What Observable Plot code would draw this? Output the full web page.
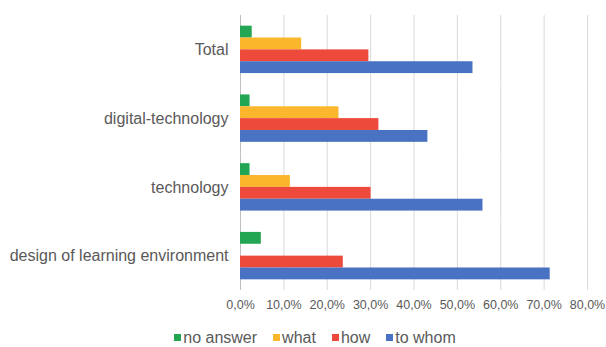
<!DOCTYPE html>
<html>
<head>
<meta charset="utf-8">
<script src="https://cdn.jsdelivr.net/npm/d3@7"></script>
<script src="https://cdn.jsdelivr.net/npm/@observablehq/plot@0.6"></script>
<style>
  html, body { margin: 0; padding: 0; background: #fff; }
  body { width: 606px; height: 347px; overflow: hidden; font-family: "Liberation Sans", Arial, sans-serif; }
  #chart svg { display: block; }
  #legend { display: flex; justify-content: center; gap: 16px; margin-top: 11px; padding-left: 24px; font-size: 16px; line-height: 17px; color: #595959; }
  #legend span.item { display: flex; align-items: center; }
  #legend span.sw { width: 7px; height: 7px; margin-right: 2px; display: inline-block; }
</style>
</head>
<body>
<div id="chart"></div>
<script>
// Survey categories, top to bottom
const categories = ["Total", "digital-technology", "technology", "design of learning environment"];
// Answer types, drawn top to bottom inside each group
const seriesNames = ["no answer", "what", "how", "to whom"];
const seriesColors = ["#22a653", "#fbb62c", "#ee4a3b", "#4a72c2"];
// Share of answers (%) per category, one array per answer type
const noAnswer = [2.7, 2.2, 2.2, 4.8];
const what     = [14.1, 22.7, 11.5, 0];
const how      = [29.6, 31.9, 30.1, 23.7];
const toWhom   = [53.6, 43.2, 55.9, 71.4];
const xTicks = [0, 10, 20, 30, 40, 50, 60, 70, 80];

const seriesValues = [noAnswer, what, how, toWhom];
const rows = [];
categories.forEach((c, i) => {
  seriesNames.forEach((s, j) => rows.push({category: c, series: s, value: seriesValues[j][i]}));
});

const fmt = d => d.toFixed(1).replace(".", ",") + "%";
const textColor = "#595959";

const chart = Plot.plot({
  width: 606,
  height: 318,
  marginLeft: 240,
  marginRight: 19,
  marginTop: 15,
  marginBottom: 28,
  style: {fontFamily: "'Liberation Sans', Arial, sans-serif", color: textColor, background: "#fff"},
  x: {domain: [0, 80], ticks: xTicks, tickFormat: fmt, label: null},
  y: {domain: seriesNames, axis: null, paddingInner: 0, paddingOuter: 0.9, round: false},
  fy: {domain: categories, padding: 0, label: null, round: false},
  color: {domain: seriesNames, range: seriesColors},
  facet: {data: rows, y: "category"},
  marks: [
    Plot.ruleX(xTicks.slice(1), {stroke: "#d9d9d9", strokeWidth: 1}),
    Plot.ruleX([0], {stroke: "#bfbfbf", strokeWidth: 1}),
    Plot.barX(rows, {y: "series", x: "value", fill: "series"}),
    Plot.axisX({ticks: xTicks, tickFormat: fmt, tickSize: 0, tickPadding: 10, fontSize: 12.5, facetAnchor: "bottom", label: null}),
    Plot.axisFy({tickSize: 0, tickPadding: 12, fontSize: 16, label: null, anchor: "left"})
  ]
});
document.getElementById("chart").appendChild(chart);

// Legend below the chart
const legend = document.createElement("div");
legend.id = "legend";
seriesNames.forEach((s, j) => {
  const item = document.createElement("span");
  item.className = "item";
  const sw = document.createElement("span");
  sw.className = "sw";
  sw.style.background = seriesColors[j];
  item.appendChild(sw);
  item.appendChild(document.createTextNode(s));
  legend.appendChild(item);
});
document.body.appendChild(legend);
</script>
</body>
</html>
